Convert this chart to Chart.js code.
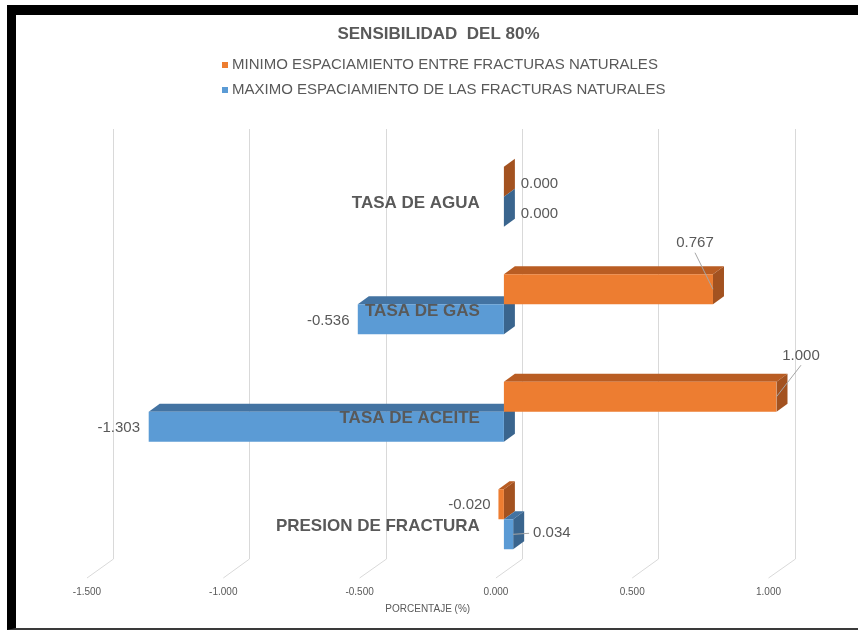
<!DOCTYPE html>
<html>
<head>
<meta charset="utf-8">
<script src="https://cdn.jsdelivr.net/npm/chart.js@4.4.1/dist/chart.umd.min.js"></script>
<style>
  html, body { margin: 0; padding: 0; background: #fff; overflow: hidden; }
  #wrap { position: relative; width: 858px; height: 631px; }
  #chart { position: absolute; left: 0; top: 0; }
  #frame {
    position: absolute; left: 7px; top: 5px; width: 900px; height: 625px;
    box-sizing: border-box; pointer-events: none;
    border-top: 10px solid #000; border-left: 9px solid #000; border-bottom: 2px solid #3a3a3a;
  }
</style>
</head>
<body>
<div id="wrap">
  <canvas id="chart" width="858" height="631"></canvas>
  <div id="frame"></div>
</div>
<script>
// Sensitivity results per parameter
const categories = ['TASA DE AGUA', 'TASA DE GAS', 'TASA DE ACEITE', 'PRESION DE FRACTURA'];
const seriesNames = [
  'MINIMO ESPACIAMIENTO ENTRE FRACTURAS NATURALES',
  'MAXIMO ESPACIAMIENTO DE LAS FRACTURAS NATURALES'
];
const minSpacing = [0.000, 0.767, 1.000, -0.020];
const maxSpacing = [0.000, -0.536, -1.303, 0.034];
const axisTicks = [-1.5, -1.0, -0.5, 0.0, 0.5, 1.0];
const chartTitle = 'SENSIBILIDAD  DEL 80%';
const axisTitle = 'PORCENTAJE (%)';

// Styling
const FONT = "'Liberation Sans', Arial, sans-serif";
const TEXT = '#595959';
const GRID = '#d9d9d9';
const DEPTH = { dx: 11, dy: -8 };          // extrusion of the 3D bars
const WALL = { dx: 18, dy: -14 };          // back wall offset from the bar plane
const FLOOR = { dx: -8, dy: 5 };           // front floor edge offset from the bar plane
const shades = [
  { front: '#ED7D31', top: '#B95D23', side: '#A35220' },
  { front: '#5B9BD5', top: '#4373A2', side: '#3A658E' }
];
// value label placement: [dx, dy, leader] of the text centre from the bar end
const labelPlacement = [
  [[35.5, 2, false], [-18, -46, true], [24.5, -41, true], [-29, 1, false]],
  [[35.5, 2, false], [-29.5, 2, false], [-30, 1, false], [38.7, -1, true]]
];

const fmt = v => Number(v).toFixed(3);

function poly(ctx, pts, color) {
  ctx.beginPath();
  ctx.moveTo(pts[0][0], pts[0][1]);
  for (let i = 1; i < pts.length; i++) ctx.lineTo(pts[i][0], pts[i][1]);
  ctx.closePath();
  ctx.fillStyle = color;
  ctx.fill();
}

const bar3d = {
  id: 'bar3d',
  beforeDatasetsDraw(chart) {
    const { ctx, chartArea: a, scales: { x } } = chart;
    ctx.save();
    // back wall gridlines and floor lines
    ctx.strokeStyle = GRID;
    ctx.lineWidth = 1;
    x.ticks.forEach(t => {
      const px = x.getPixelForValue(t.value);
      const wx = Math.round(px + WALL.dx) + 0.5;
      ctx.beginPath();
      ctx.moveTo(wx, a.top + WALL.dy);
      ctx.lineTo(wx, a.bottom + WALL.dy);
      ctx.lineTo(px + FLOOR.dx, a.bottom + FLOOR.dy);
      ctx.stroke();
    });
    // top and side faces of every bar
    chart.data.datasets.forEach((ds, i) => {
      const meta = chart.getDatasetMeta(i);
      const c = shades[i];
      meta.data.forEach(el => {
        const p = el.getProps(['x', 'y', 'base', 'height'], true);
        const xa = Math.min(p.x, p.base), xb = Math.max(p.x, p.base);
        const t = p.y - p.height / 2, b = p.y + p.height / 2;
        const { dx, dy } = DEPTH;
        poly(ctx, [[xa, t], [xb, t], [xb + dx, t + dy], [xa + dx, t + dy]], c.top);
        poly(ctx, [[xb, t], [xb + dx, t + dy], [xb + dx, b + dy], [xb, b]], c.side);
      });
    });
    ctx.restore();
  },
  afterDatasetsDraw(chart) {
    const { ctx, scales: { x, y } } = chart;
    ctx.save();
    // category labels next to the zero line
    ctx.font = 'bold 17px ' + FONT;
    ctx.fillStyle = TEXT;
    ctx.textAlign = 'right';
    ctx.textBaseline = 'middle';
    const zx = x.getPixelForValue(0);
    chart.data.labels.forEach((lab, j) => {
      ctx.fillText(lab, zx - 24, y.getPixelForValue(j) + 7);
    });
    // value labels
    ctx.font = '15px ' + FONT;
    ctx.textAlign = 'center';
    chart.data.datasets.forEach((ds, i) => {
      const meta = chart.getDatasetMeta(i);
      meta.data.forEach((el, j) => {
        const p = el.getProps(['x', 'y'], true);
        const [dx, dy, leader] = labelPlacement[i][j];
        const tx = p.x + dx, ty = p.y + dy;
        const txt = fmt(ds.data[j]);
        ctx.fillStyle = TEXT;
        ctx.fillText(txt, tx, ty);
        if (leader) {
          const w = ctx.measureText(txt).width;
          ctx.strokeStyle = '#a6a6a6';
          ctx.lineWidth = 1;
          ctx.beginPath();
          ctx.moveTo(p.x, p.y);
          if (Math.abs(dy) > Math.abs(dx)) ctx.lineTo(tx, ty + 9.5);
          else ctx.lineTo(tx - Math.sign(dx) * (w / 2 + 4), ty);
          ctx.stroke();
        }
      });
    });
    ctx.restore();
  },
  afterDraw(chart) {
    const { ctx, chartArea: a, scales: { x } } = chart;
    ctx.save();
    ctx.fillStyle = TEXT;
    ctx.textBaseline = 'middle';
    // title
    ctx.textAlign = 'center';
    ctx.font = 'bold 17px ' + FONT;
    ctx.fillText(chartTitle, 438.5, 34);
    // legend, one series per row
    ctx.textAlign = 'left';
    ctx.font = '15px ' + FONT;
    chart.data.datasets.forEach((ds, i) => {
      const yy = 65 + i * 25;
      ctx.fillStyle = ds.backgroundColor;
      ctx.fillRect(222, yy - 3, 6, 6);
      ctx.fillStyle = TEXT;
      ctx.fillText(ds.label, 232, yy);
    });
    // axis title, centred under the floor front edge
    ctx.textAlign = 'center';
    ctx.font = '10px ' + FONT;
    const cx = (x.getPixelForValue(x.min) + x.getPixelForValue(x.max)) / 2 + FLOOR.dx;
    ctx.fillText(axisTitle, cx, 609);
    ctx.restore();
  }
};

new Chart(document.getElementById('chart'), {
  type: 'bar',
  data: {
    labels: categories,
    datasets: [
      { label: seriesNames[0], data: minSpacing, backgroundColor: shades[0].front },
      { label: seriesNames[1], data: maxSpacing, backgroundColor: shades[1].front }
    ]
  },
  options: {
    indexAxis: 'y',
    responsive: false,
    animation: false,
    devicePixelRatio: 1,
    barPercentage: 1,
    categoryPercentage: 0.56,
    layout: { padding: { top: 143, left: 95, right: 81.5, bottom: 0 } },
    plugins: {
      legend: { display: false },
      title: { display: false },
      tooltip: { enabled: false }
    },
    scales: {
      x: {
        type: 'linear',
        min: -1.5,
        max: 1.0,
        afterBuildTicks: s => { s.ticks = axisTicks.map(v => ({ value: v })); },
        afterFit: s => { s.height = 58; },
        grid: { display: false, drawTicks: false },
        border: { display: false },
        ticks: {
          labelOffset: FLOOR.dx,
          padding: 13,
          color: TEXT,
          font: { family: FONT, size: 10 },
          callback: v => fmt(v)
        }
      },
      y: { display: false }
    }
  },
  plugins: [bar3d]
});
</script>
</body>
</html>
